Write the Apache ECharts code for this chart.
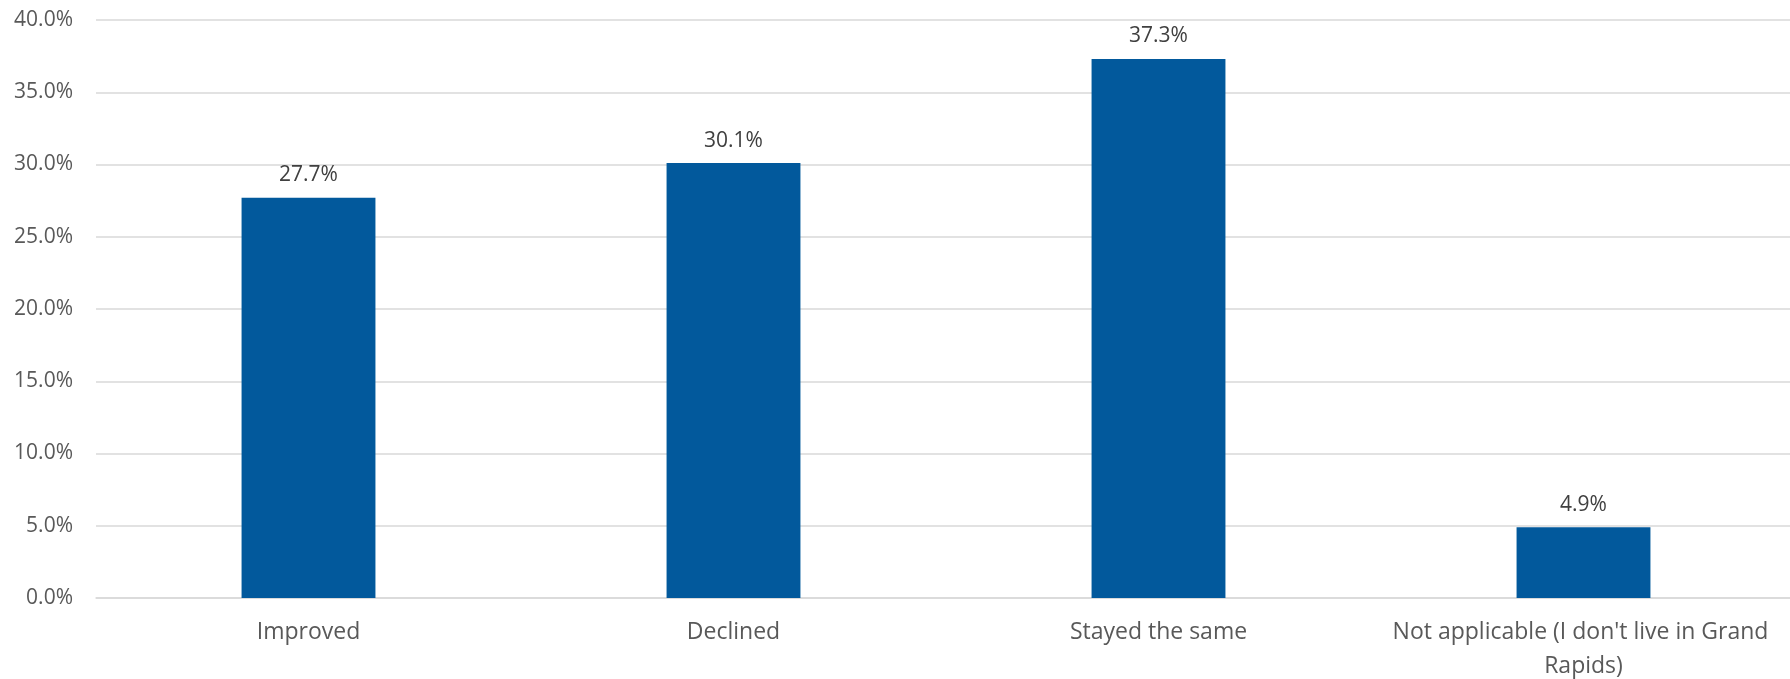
<!DOCTYPE html>
<html><head><meta charset="utf-8">
<script src="https://cdn.jsdelivr.net/npm/echarts@6/dist/echarts.min.js"></script>
<style>html,body{margin:0;padding:0;background:#fff}#c{width:1790px;height:679px}</style>
</head><body><div id="c"></div>
<script>
const categories = ["Improved", "Declined", "Stayed the same", "Not applicable (I don't live in Grand Rapids)"];
const values = [27.7, 30.1, 37.3, 4.9];
const yTicks = [0, 5, 10, 15, 20, 25, 30, 35, 40];

const chart = echarts.init(document.getElementById('c'), null, {renderer: 'canvas'});
const font = '"Open Sans", sans-serif';
chart.setOption({
  animation: false,
  grid: {left: 96, right: -6, top: 20, bottom: 81, containLabel: false, outerBoundsMode: 'none'},
  xAxis: {
    type: 'category', data: categories,
    axisLine: {show: true, lineStyle: {color: '#d9d9d9', width: 1.5}},
    axisTick: {show: false},
    axisLabel: {interval: 0, color: '#595959', fontFamily: font, fontSize: 23, margin: 17,
      width: 420, overflow: 'break', lineHeight: 34}
  },
  yAxis: {
    type: 'value', min: yTicks[0], max: yTicks[yTicks.length-1], interval: 5,
    axisLine: {show: false}, axisTick: {show: false},
    splitLine: {lineStyle: {color: '#d9d9d9', width: 1.5}},
    axisLabel: {color: '#595959', fontFamily: font, fontSize: 21, margin: 23,
      formatter: v => v.toFixed(1) + '%'}
  },
  series: [{
    type: 'bar', data: values, barWidth: '31.5%',
    itemStyle: {color: '#02599C'},
    label: {show: true, position: 'top', distance: 12, color: '#404040', fontFamily: font, fontSize: 21,
      formatter: p => p.value.toFixed(1) + '%'}
  }]
});
</script></body></html>
